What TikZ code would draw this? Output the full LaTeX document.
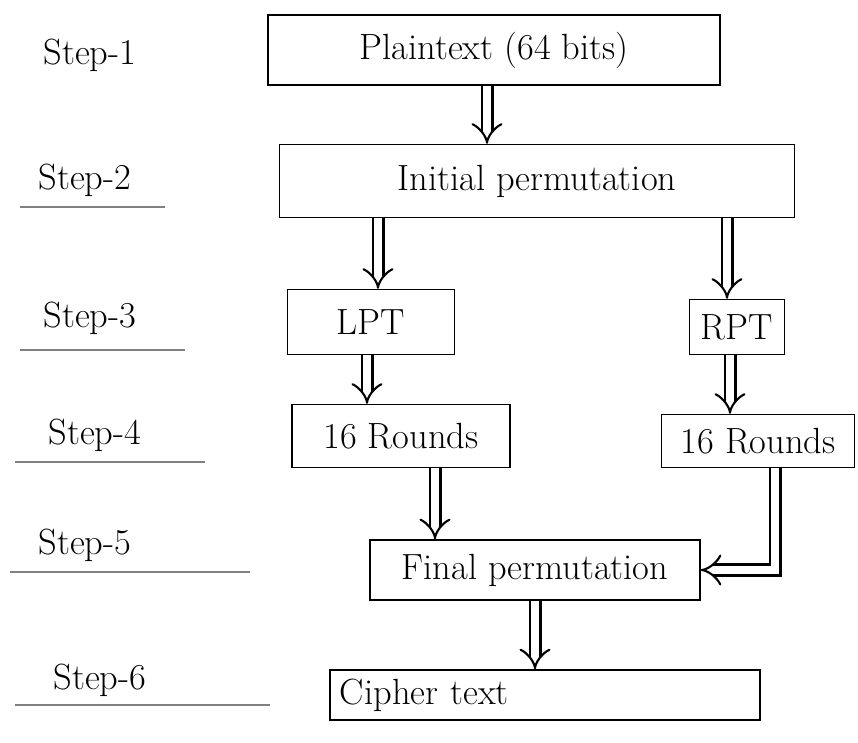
\documentclass[tikz,border=0pt]{standalone}
\usepackage{tikz}
\usetikzlibrary{positioning,arrows.meta}
\tikzset{>=latex}

\begin{document}
\begin{tikzpicture}[x=0.2mm,y=-0.2mm]
    \tikzset{
    stage/.style={draw, thick, rectangle, inner sep=2pt, font=\huge},
    steplabel/.style={font=\huge, anchor=center},
    uline/.style={gray, thick},
    dbl/.style={double, double distance=5pt, very thick, -{Implies[length=6pt]}},
    }

    \useasboundingbox (0,0) rectangle (858,743);

    % Step labels.
    \node[steplabel] (s1) at (90,55)  {Step-1};
    \node[steplabel] (s2) at (85,180) {Step-2};
    \node[steplabel] (s3) at (90,318) {Step-3};
    \node[steplabel] (s4) at (95,435) {Step-4};
    \node[steplabel] (s5) at (85,545) {Step-5};
    \node[steplabel] (s6) at (100,680) {Step-6};

    % Underlines.
    \draw [uline] (20,207) -- (165,207);
    \draw [uline] (20,350) -- (185,350);
    \draw [uline] (15,462) -- (205,462);
    \draw [uline] (10,572) -- (250,572);
    \draw [uline] (15,705) -- (270,705);

    % Stages.
    \node[stage, minimum width=90.4mm, minimum height=14mm] (plain)     at (494,50)  {Plaintext (64 bits)};
    \node[stage, minimum width=103mm,  minimum height=14.6mm] (initperm) at (537,181) {Initial permutation};
    \node[stage, minimum width=33.4mm, minimum height=13mm] (lpt)       at (371,322) {LPT};
    \node[stage, minimum width=19mm,   minimum height=11mm] (rpt)       at (737,327) {RPT};
    \node[stage, minimum width=43.6mm, minimum height=12.6mm] (roundsl) at (401,436) {16 Rounds};
    \node[stage, minimum width=38.6mm, minimum height=10.6mm] (roundsr) at (758,441) {16 Rounds};
    \node[stage, minimum width=66mm,   minimum height=12mm] (finalperm) at (535,570) {Final permutation};
    \node[stage, minimum width=86mm,   minimum height=10mm, text width=82mm, align=left] (cipher) at (545,695) {Cipher text};

    % Connections.
    \draw [dbl] (plain.south -| 487,0)    -- (initperm.north -| 487,0);
    \draw [dbl] (initperm.south -| 378,0) -- (lpt.north -| 378,0);
    \draw [dbl] (initperm.south -| 727,0) -- (rpt.north -| 727,0);
    \draw [dbl] (lpt.south -| 367,0)      -- (roundsl.north -| 367,0);
    \draw [dbl] (rpt.south -| 730,0)      -- (roundsr.north -| 730,0);
    \draw [dbl] (roundsl.south -| 435,0)  -- (finalperm.north -| 435,0);
    \draw [dbl] (roundsr.south -| 775,0)  |- (finalperm.east);
    \draw [dbl] (finalperm.south)         -- (cipher.north -| finalperm.south);
\end{tikzpicture}
\end{document}
